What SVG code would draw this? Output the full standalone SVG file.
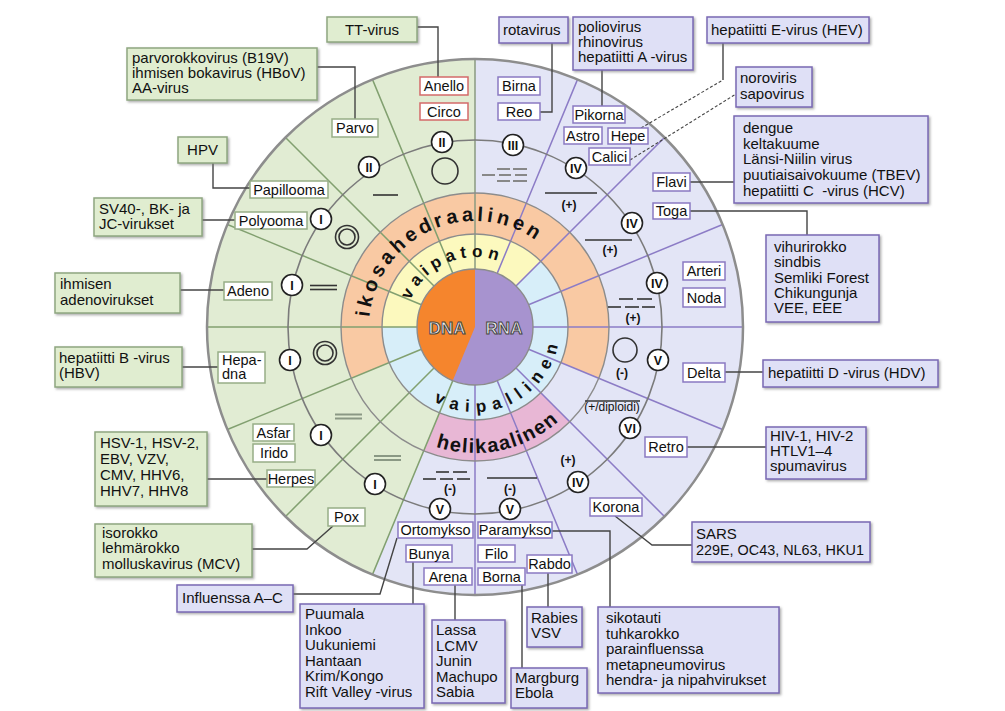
<svg xmlns="http://www.w3.org/2000/svg" width="1005" height="711" viewBox="0 0 1005 711">
<defs>
<style>
text{font-family:"Liberation Sans",Arial,sans-serif;fill:#111}
.ot{font-size:15px}
.it{font-size:14.5px;text-anchor:middle}
.ring{font-size:20px;font-weight:bold}
.ring2{font-size:17px;font-weight:bold}
.num{font-size:12.5px;font-weight:bold;text-anchor:middle}
.sg{font-size:12px;font-weight:bold;text-anchor:middle}
.dr{font-size:17px;font-weight:bold;text-anchor:middle;fill:#ececec;stroke:#444;stroke-width:1}
.obg{fill:#e0edd0;stroke:#8fa680;stroke-width:1.5;filter:url(#sh)}
.obr{fill:#dfe0f6;stroke:#7a68b4;stroke-width:1.5;filter:url(#sh)}
.ibg{fill:#fff;stroke:#97ad87;stroke-width:1.5}
.ibr{fill:#fff;stroke:#8a79c2;stroke-width:1.5}
.ibx{fill:#fff;stroke:#d36a6a;stroke-width:1.5}
.rg{stroke:#82a070;stroke-width:1.5;fill:none}
.rr{stroke:#8c7cc6;stroke-width:1.5;fill:none}
.nc{fill:#fff;stroke:#222;stroke-width:1.6}
.cn{fill:none;stroke:#444;stroke-width:1.4}
.dash{stroke-dasharray:3 2;stroke-width:1.1}
.sym{fill:none;stroke:#333;stroke-width:1.6}
.symg{fill:none;stroke:#8a9884;stroke-width:2}
.ringline{fill:none;stroke:#8c8c8c;stroke-width:1.4}
</style>
<filter id="sh" x="-10%" y="-10%" width="130%" height="140%"><feDropShadow dx="1.5" dy="1.5" stdDeviation="1" flood-color="#777" flood-opacity="0.6"/></filter>
<path id="p-ikosa" d="M371.32,349.04 A106,106 0 0 1 560.76,264.69"/>
<path id="p-vaipaton" d="M409.22,350.94 A70,70 0 0 1 538.44,297.42"/>
<path id="p-vaipallinen" d="M414.90,387.10 A85,85 0 0 0 559.17,315.17"/>
<path id="p-heli" d="M365.88,390 A126,126 0 0 0 600.31,340.17"/>
</defs>

<g id="wheel">
<circle cx="475" cy="327" r="268" fill="#e3e5f6"/>
<path d="M475,327 L475,59 A268,268 0 0 0 372.44,574.6 Z" fill="#e1ecd3"/>
<path d="M598.8,378.28 A134,134 0 1 0 351.2,378.28 L389.08,362.59 A93,93 0 1 1 560.92,362.59 Z" fill="#f9c9a3"/>
<path d="M423.72,450.8 A134,134 0 0 0 569.75,421.75 L540.76,392.76 A93,93 0 0 1 439.41,412.92 Z" fill="#e8b7d5"/>
<circle cx="475" cy="327" r="93" fill="#d7eef9"/>
<path d="M540.76,261.24 A93,93 0 0 0 382,327 L417,327 A58,58 0 0 1 516.01,285.99 Z" fill="#fcf9be"/>
<circle cx="475" cy="327" r="58" fill="#a793cf"/>
<path d="M475,327 L475,269 A58,58 0 0 0 452.8,380.59 Z" fill="#f5852d"/>
</g>

<g id="radials">
<line x1="475" y1="269" x2="475" y2="59" stroke="#8a9a80" stroke-width="1.5"/>
<path class="rg" d="M452.80,273.41 L372.44,79.40 M433.99,285.99 L285.49,137.49 M421.41,304.80 L227.40,224.44 M417,327 L207,327 M421.41,349.20 L227.40,429.56 M433.99,368.01 L285.49,516.51 M452.80,380.59 L372.44,574.60"/>
<path class="rr" d="M475,385 L475,595 M497.20,380.59 L577.56,574.60 M516.01,368.01 L664.51,516.51 M528.59,349.20 L722.60,429.56 M533,327 L743,327 M528.59,304.80 L722.60,224.44 M516.01,285.99 L664.51,137.49 M497.20,273.41 L577.56,79.40"/>
</g>

<g id="rings">
<circle class="ringline" cx="475" cy="327" r="58"/>
<circle class="ringline" cx="475" cy="327" r="93"/>
<circle class="ringline" cx="475" cy="327" r="134"/>
<circle cx="475" cy="327" r="187" fill="none" stroke="#7b7b7b" stroke-width="1.6"/>
<circle cx="475" cy="327" r="268" fill="none" stroke="#8d8d8d" stroke-width="2.5"/>
</g>

<g id="ring-labels">
<text class="ring"><textPath href="#p-ikosa" startOffset="50%" text-anchor="middle" letter-spacing="3.8">ikosahedraalinen</textPath></text>
<text class="ring2"><textPath href="#p-vaipaton" startOffset="50%" text-anchor="middle" letter-spacing="5">vaipaton</textPath></text>
<text class="ring2"><textPath href="#p-vaipallinen" startOffset="50%" text-anchor="middle" letter-spacing="7">vaipallinen</textPath></text>
<text class="ring"><textPath href="#p-heli" startOffset="50%" text-anchor="middle" letter-spacing="1.5">helikaalinen</textPath></text>
<text class="dr" x="447" y="334">DNA</text>
<text class="dr" x="504" y="334">RNA</text>
</g>

<g id="genome-symbols">
<circle class="sym" cx="445" cy="171" r="13" stroke="#555"/>
<line class="sym" x1="373" y1="195" x2="398" y2="195"/>
<circle class="sym" cx="347" cy="237" r="11.5" stroke="#555"/>
<circle class="sym" cx="347" cy="237" r="8" stroke="#555"/>
<line class="sym" x1="310" y1="285.5" x2="337" y2="285.5"/>
<line class="sym" x1="310" y1="289.5" x2="337" y2="289.5"/>
<circle class="sym" cx="325" cy="353" r="11.5" stroke="#555"/>
<circle class="sym" cx="325" cy="353" r="8" stroke="#555"/>
<line class="symg" x1="335" y1="414.5" x2="362" y2="414.5"/>
<line class="symg" x1="335" y1="418.5" x2="362" y2="418.5"/>
<line class="symg" x1="374" y1="456" x2="401" y2="456"/>
<line class="symg" x1="374" y1="460" x2="401" y2="460"/>
<g stroke="#888" stroke-width="2">
<line x1="497" y1="169" x2="510" y2="169"/><line x1="513" y1="169" x2="527" y2="169"/>
<line x1="482" y1="175" x2="495" y2="175"/><line x1="499" y1="175" x2="511" y2="175"/><line x1="515" y1="175" x2="527" y2="175"/>
<line x1="497" y1="181" x2="510" y2="181"/><line x1="513" y1="181" x2="527" y2="181"/>
</g>
<line class="sym" x1="545" y1="193" x2="597" y2="193"/>
<text class="sg" x="569" y="209">(+)</text>
<line class="sym" x1="585" y1="240" x2="632" y2="240"/>
<text class="sg" x="610" y="254">(+)</text>
<g class="sym">
<line x1="619" y1="299" x2="633" y2="299"/><line x1="637" y1="299" x2="652" y2="299"/>
<line x1="608" y1="307" x2="621" y2="307"/><line x1="625" y1="307" x2="639" y2="307"/><line x1="642" y1="307" x2="655" y2="307"/>
</g>
<text class="sg" x="633" y="322">(+)</text>
<circle class="sym" cx="625" cy="350" r="12" stroke="#444"/>
<text class="sg" x="622" y="377">(-)</text>
<line class="sym" x1="585" y1="401" x2="640" y2="401" stroke-width="1.2"/>
<text x="612" y="411" font-size="12" text-anchor="middle">(+/diploidi)</text>
<text class="sg" x="568" y="464">(+)</text>
<line class="sym" x1="487" y1="478" x2="537" y2="478"/>
<text class="sg" x="510" y="493">(-)</text>
<g class="sym">
<line x1="436" y1="472" x2="449" y2="472"/><line x1="453" y1="472" x2="467" y2="472"/>
<line x1="423" y1="479" x2="436" y2="479"/><line x1="440" y1="479" x2="453" y2="479"/><line x1="457" y1="479" x2="470" y2="479"/>
</g>
<text class="sg" x="450" y="493">(-)</text>
</g>

<g id="numerals">
<circle class="nc" cx="442" cy="142" r="10.5"/><text class="num" x="442" y="146.5">II</text>
<circle class="nc" cx="369" cy="167" r="10.5"/><text class="num" x="369" y="171.5">II</text>
<circle class="nc" cx="321" cy="219" r="10.5"/><text class="num" x="321" y="223.5">I</text>
<circle class="nc" cx="292" cy="285" r="10.5"/><text class="num" x="292" y="289.5">I</text>
<circle class="nc" cx="290" cy="360" r="10.5"/><text class="num" x="290" y="364.5">I</text>
<circle class="nc" cx="321" cy="435" r="10.5"/><text class="num" x="321" y="439.5">I</text>
<circle class="nc" cx="375" cy="484" r="10.5"/><text class="num" x="375" y="488.5">I</text>
<circle class="nc" cx="513" cy="145" r="10.5"/><text class="num" x="513" y="149.5">III</text>
<circle class="nc" cx="576" cy="168" r="10.5"/><text class="num" x="576" y="172.5">IV</text>
<circle class="nc" cx="632" cy="223" r="10.5"/><text class="num" x="632" y="227.5">IV</text>
<circle class="nc" cx="657" cy="283" r="10.5"/><text class="num" x="657" y="287.5">IV</text>
<circle class="nc" cx="658" cy="360" r="10.5"/><text class="num" x="658" y="364.5">V</text>
<circle class="nc" cx="630" cy="428" r="10.5"/><text class="num" x="630" y="432.5">VI</text>
<circle class="nc" cx="578" cy="482" r="10.5"/><text class="num" x="578" y="486.5">IV</text>
<circle class="nc" cx="510" cy="509" r="10.5"/><text class="num" x="510" y="513.5">V</text>
<circle class="nc" cx="440" cy="509" r="10.5"/><text class="num" x="440" y="513.5">V</text>
</g>

<g id="connectors">
<polyline class="cn" points="417,27 438,27 438,77"/>
<polyline class="cn" points="317,67 355,67 355,119"/>
<polyline class="cn" points="213,163 213,188 250,188"/>
<polyline class="cn" points="202,220 235,220"/>
<polyline class="cn" points="180,290 224,290"/>
<polyline class="cn" points="182,367 218,367"/>
<polyline class="cn" points="207,479 267,479"/>
<polyline class="cn" points="252,549 307,549 333,526"/>
<polyline class="cn" points="293,594 380,594 397,538"/>
<polyline class="cn" points="413,562 413,604"/>
<polyline class="cn" points="455,585 455,620"/>
<polyline class="cn" points="522,585 522,668"/>
<polyline class="cn" points="548,573 548,607"/>
<polyline class="cn" points="552,531 610,531 610,607"/>
<polyline class="cn" points="615,516 652,545 692,545"/>
<polyline class="cn" points="687,447 766,447"/>
<polyline class="cn" points="725,372 763,372"/>
<polyline class="cn" points="690,211 807,211 807,235"/>
<polyline class="cn" points="690,182 734,182"/>
<line class="cn dash" x1="630" y1="160" x2="736" y2="94"/>
<line class="cn dash" x1="641" y1="128" x2="723" y2="80"/>
<polyline class="cn" points="723,80 723,43"/>
<polyline class="cn" points="552,43 552,112 540,112"/>
<polyline class="cn" points="602,70 602,106"/>
</g>

<g id="n-anello"><rect class="ibx" x="420" y="77" width="48" height="18"/><text class="it" x="444" y="91">Anello</text></g>
<g id="n-circo"><rect class="ibx" x="420" y="103" width="48" height="17"/><text class="it" x="444" y="116.5">Circo</text></g>
<g id="n-parvo"><rect class="ibg" x="332" y="119" width="46" height="18"/><text class="it" x="355" y="133">Parvo</text></g>
<g id="n-papillooma"><rect class="ibg" x="250" y="181" width="78" height="17"/><text class="it" x="289" y="194.5">Papillooma</text></g>
<g id="n-polyooma"><rect class="ibg" x="235" y="212" width="72" height="17"/><text class="it" x="271" y="225.5">Polyooma</text></g>
<g id="n-adeno"><rect class="ibg" x="224" y="282" width="48" height="18"/><text class="it" x="248" y="296">Adeno</text></g>
<g id="n-hepadna"><rect class="ibg" x="218" y="352" width="47" height="31"/><text x="222" y="365" font-size="14.5">Hepa-</text><text x="222" y="379" font-size="14.5">dna</text></g>
<g id="n-asfar"><rect class="ibg" x="253" y="424" width="41" height="17"/><text class="it" x="273.5" y="437.5">Asfar</text></g>
<g id="n-irido"><rect class="ibg" x="253" y="444" width="42" height="18"/><text class="it" x="274" y="458">Irido</text></g>
<g id="n-herpes"><rect class="ibg" x="267" y="470" width="48" height="17"/><text class="it" x="291" y="483.5">Herpes</text></g>
<g id="n-pox"><rect class="ibg" x="328" y="508" width="37" height="18"/><text class="it" x="346.5" y="522">Pox</text></g>

<g id="n-birna"><rect class="ibr" x="498" y="77" width="42" height="18"/><text class="it" x="519" y="91">Birna</text></g>
<g id="n-reo"><rect class="ibr" x="498" y="103" width="42" height="17"/><text class="it" x="519" y="116.5">Reo</text></g>
<g id="n-pikorna"><rect class="ibr" x="573" y="106" width="52" height="17"/><text class="it" x="599" y="119.5">Pikorna</text></g>
<g id="n-astro"><rect class="ibr" x="564" y="127" width="38" height="17"/><text class="it" x="583" y="140.5">Astro</text></g>
<g id="n-hepe"><rect class="ibr" x="608" y="128" width="40" height="16"/><text class="it" x="628" y="141">Hepe</text></g>
<g id="n-calici"><rect class="ibr" x="589" y="148" width="41" height="17"/><text class="it" x="609.5" y="161.5">Calici</text></g>
<g id="n-flavi"><rect class="ibr" x="653" y="173" width="37" height="18"/><text class="it" x="671.5" y="187">Flavi</text></g>
<g id="n-toga"><rect class="ibr" x="653" y="203" width="37" height="16"/><text class="it" x="671.5" y="216">Toga</text></g>
<g id="n-arteri"><rect class="ibr" x="683" y="262" width="42" height="18"/><text class="it" x="704" y="276">Arteri</text></g>
<g id="n-noda"><rect class="ibr" x="683" y="288" width="42" height="19"/><text class="it" x="704" y="302.5">Noda</text></g>
<g id="n-delta"><rect class="ibr" x="683" y="363" width="42" height="19"/><text class="it" x="704" y="377.5">Delta</text></g>
<g id="n-retro"><rect class="ibr" x="645" y="437" width="42" height="20"/><text class="it" x="666" y="452">Retro</text></g>
<g id="n-korona"><rect class="ibr" x="590" y="498" width="52" height="18"/><text class="it" x="616" y="512">Korona</text></g>
<g id="n-ortomykso"><rect class="ibr" x="398" y="522" width="75" height="16"/><text class="it" x="435.5" y="535">Ortomykso</text></g>
<g id="n-paramykso"><rect class="ibr" x="478" y="522" width="74" height="16"/><text class="it" x="515" y="535">Paramykso</text></g>
<g id="n-bunya"><rect class="ibr" x="406" y="545" width="46" height="17"/><text class="it" x="429" y="558.5">Bunya</text></g>
<g id="n-filo"><rect class="ibr" x="478" y="545" width="37" height="17"/><text class="it" x="496.5" y="558.5">Filo</text></g>
<g id="n-rabdo"><rect class="ibr" x="527" y="555" width="45" height="18"/><text class="it" x="549.5" y="569">Rabdo</text></g>
<g id="n-arena"><rect class="ibr" x="424" y="568" width="48" height="17"/><text class="it" x="448" y="581.5">Arena</text></g>
<g id="n-borna"><rect class="ibr" x="478" y="568" width="47" height="17"/><text class="it" x="501.5" y="581.5">Borna</text></g>

<g id="b-tt"><rect class="obg" x="327" y="17" width="90" height="25"/><text class="ot" x="372" y="35" text-anchor="middle">TT-virus</text></g>
<g id="b-parvo"><rect class="obg" x="127" y="48" width="190" height="52"/><text class="ot" x="132" y="63">parvorokkovirus (B19V)</text><text class="ot" x="132" y="78">ihmisen bokavirus (HBoV)</text><text class="ot" x="132" y="93">AA-virus</text></g>
<g id="b-hpv"><rect class="obg" x="178" y="137" width="49" height="26"/><text class="ot" x="202.5" y="155" text-anchor="middle">HPV</text></g>
<g id="b-sv40"><rect class="obg" x="94" y="198" width="108" height="38"/><text class="ot" x="99" y="214">SV40-, BK- ja</text><text class="ot" x="99" y="229">JC-virukset</text></g>
<g id="b-adeno"><rect class="obg" x="55" y="273" width="125" height="40"/><text class="ot" x="60" y="289">ihmisen</text><text class="ot" x="60" y="305">adenovirukset</text></g>
<g id="b-hbv"><rect class="obg" x="55" y="347" width="127" height="40"/><text class="ot" x="59" y="363">hepatiitti B -virus</text><text class="ot" x="59" y="378">(HBV)</text></g>
<g id="b-hsv"><rect class="obg" x="95" y="432" width="112" height="74"/><text class="ot" x="100" y="448">HSV-1, HSV-2,</text><text class="ot" x="100" y="464">EBV, VZV,</text><text class="ot" x="100" y="480">CMV, HHV6,</text><text class="ot" x="100" y="496">HHV7, HHV8</text></g>
<g id="b-pox"><rect class="obg" x="95" y="524" width="157" height="53"/><text class="ot" x="102" y="538">isorokko</text><text class="ot" x="102" y="553">lehmärokko</text><text class="ot" x="102" y="569">molluskavirus (MCV)</text></g>

<g id="b-influenssa"><rect class="obr" x="177" y="585" width="116" height="27"/><text class="ot" x="182" y="603">Influenssa A–C</text></g>
<g id="b-bunya"><rect class="obr" x="300" y="604" width="124" height="104"/><text class="ot" x="305" y="619">Puumala</text><text class="ot" x="305" y="634.5">Inkoo</text><text class="ot" x="305" y="650">Uukuniemi</text><text class="ot" x="305" y="665.5">Hantaan</text><text class="ot" x="305" y="681">Krim/Kongo</text><text class="ot" x="305" y="697">Rift Valley -virus</text></g>
<g id="b-arena"><rect class="obr" x="432" y="620" width="73" height="83"/><text class="ot" x="436" y="635">Lassa</text><text class="ot" x="436" y="650.5">LCMV</text><text class="ot" x="436" y="666">Junin</text><text class="ot" x="436" y="681.5">Machupo</text><text class="ot" x="436" y="697">Sabia</text></g>
<g id="b-rabdo"><rect class="obr" x="527" y="607" width="55" height="40"/><text class="ot" x="531" y="623">Rabies</text><text class="ot" x="531" y="638">VSV</text></g>
<g id="b-filo"><rect class="obr" x="511" y="668" width="76" height="40"/><text class="ot" x="515" y="683">Margburg</text><text class="ot" x="515" y="698">Ebola</text></g>
<g id="b-paramykso"><rect class="obr" x="598" y="607" width="181" height="86"/><text class="ot" x="606" y="623">sikotauti</text><text class="ot" x="606" y="638.5">tuhkarokko</text><text class="ot" x="606" y="654">parainfluenssa</text><text class="ot" x="606" y="669.5">metapneumovirus</text><text class="ot" x="606" y="685">hendra- ja nipahvirukset</text></g>
<g id="b-korona"><rect class="obr" x="692" y="522" width="178" height="40"/><text class="ot" x="696" y="539">SARS</text><text class="ot" x="696" y="555" textLength="168" lengthAdjust="spacingAndGlyphs">229E, OC43, NL63, HKU1</text></g>
<g id="b-retro"><rect class="obr" x="766" y="427" width="100" height="52"/><text class="ot" x="770" y="441">HIV-1, HIV-2</text><text class="ot" x="770" y="456">HTLV1–4</text><text class="ot" x="770" y="471">spumavirus</text></g>
<g id="b-delta"><rect class="obr" x="763" y="360" width="175" height="27"/><text class="ot" x="768" y="378">hepatiitti D -virus (HDV)</text></g>
<g id="b-toga"><rect class="obr" x="766" y="235" width="113" height="87"/><text class="ot" x="774" y="252">vihurirokko</text><text class="ot" x="774" y="267">sindbis</text><text class="ot" x="774" y="283">Semliki Forest</text><text class="ot" x="774" y="298">Chikungunja</text><text class="ot" x="774" y="313">VEE, EEE</text></g>
<g id="b-flavi"><rect class="obr" x="734" y="116" width="194" height="87"/><text class="ot" x="743" y="133">dengue</text><text class="ot" x="743" y="148.5">keltakuume</text><text class="ot" x="743" y="164">Länsi-Niilin virus</text><text class="ot" x="743" y="180">puutiaisaivokuume (TBEV)</text><text class="ot" x="743" y="195.5" xml:space="preserve">hepatiitti C  -virus (HCV)</text></g>
<g id="b-calici"><rect class="obr" x="736" y="67" width="76" height="40"/><text class="ot" x="740" y="83">noroviris</text><text class="ot" x="740" y="99">sapovirus</text></g>
<g id="b-hepe"><rect class="obr" x="707" y="17" width="162" height="26"/><text class="ot" x="711" y="35">hepatiitti E-virus (HEV)</text></g>
<g id="b-reo"><rect class="obr" x="499" y="17" width="69" height="26"/><text class="ot" x="503" y="35">rotavirus</text></g>
<g id="b-pikorna"><rect class="obr" x="573" y="17" width="120" height="53"/><text class="ot" x="578" y="32">poliovirus</text><text class="ot" x="578" y="47">rhinovirus</text><text class="ot" x="578" y="62">hepatiitti A -virus</text></g>
</svg>
